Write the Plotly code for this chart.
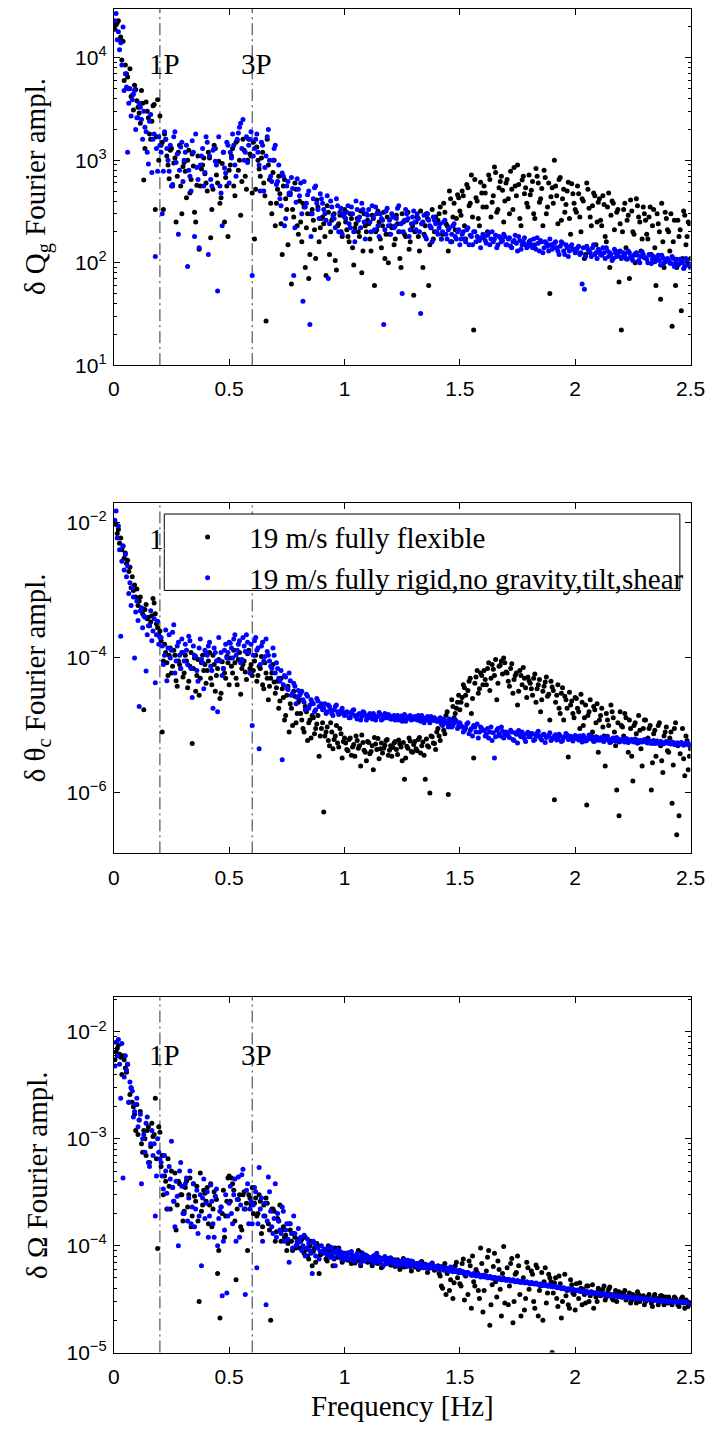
import plotly.graph_objects as go

# ---------------- data ----------------
# FFT bins on the whole-hundredth grid
FREQ = [
    0.01, 0.02, 0.03, 0.04, 0.05, 0.06, 0.07, 0.08, 0.09, 0.10,
    0.11, 0.12, 0.13, 0.14, 0.15, 0.16, 0.17, 0.18, 0.19, 0.20,
    0.21, 0.22, 0.23, 0.24, 0.25, 0.26, 0.27, 0.28, 0.29, 0.30,
    0.31, 0.32, 0.33, 0.34, 0.35, 0.36, 0.37, 0.38, 0.39, 0.40,
    0.41, 0.42, 0.43, 0.44, 0.45, 0.46, 0.47, 0.48, 0.49, 0.50,
    0.51, 0.52, 0.53, 0.54, 0.55, 0.56, 0.57, 0.58, 0.59, 0.60,
    0.61, 0.62, 0.63, 0.64, 0.65, 0.66, 0.67, 0.68, 0.69, 0.70,
    0.71, 0.72, 0.73, 0.74, 0.75, 0.76, 0.77, 0.78, 0.79, 0.80,
    0.81, 0.82, 0.83, 0.84, 0.85, 0.86, 0.87, 0.88, 0.89, 0.90,
    0.91, 0.92, 0.93, 0.94, 0.95, 0.96, 0.97, 0.98, 0.99, 1.00,
    1.01, 1.02, 1.03, 1.04, 1.05, 1.06, 1.07, 1.08, 1.09, 1.10,
    1.11, 1.12, 1.13, 1.14, 1.15, 1.16, 1.17, 1.18, 1.19, 1.20,
    1.21, 1.22, 1.23, 1.24, 1.25, 1.26, 1.27, 1.28, 1.29, 1.30,
    1.31, 1.32, 1.33, 1.34, 1.35, 1.36, 1.37, 1.38, 1.39, 1.40,
    1.41, 1.42, 1.43, 1.44, 1.45, 1.46, 1.47, 1.48, 1.49, 1.50,
    1.51, 1.52, 1.53, 1.54, 1.55, 1.56, 1.57, 1.58, 1.59, 1.60,
    1.61, 1.62, 1.63, 1.64, 1.65, 1.66, 1.67, 1.68, 1.69, 1.70,
    1.71, 1.72, 1.73, 1.74, 1.75, 1.76, 1.77, 1.78, 1.79, 1.80,
    1.81, 1.82, 1.83, 1.84, 1.85, 1.86, 1.87, 1.88, 1.89, 1.90,
    1.91, 1.92, 1.93, 1.94, 1.95, 1.96, 1.97, 1.98, 1.99, 2.00,
    2.01, 2.02, 2.03, 2.04, 2.05, 2.06, 2.07, 2.08, 2.09, 2.10,
    2.11, 2.12, 2.13, 2.14, 2.15, 2.16, 2.17, 2.18, 2.19, 2.20,
    2.21, 2.22, 2.23, 2.24, 2.25, 2.26, 2.27, 2.28, 2.29, 2.30,
    2.31, 2.32, 2.33, 2.34, 2.35, 2.36, 2.37, 2.38, 2.39, 2.40,
    2.41, 2.42, 2.43, 2.44, 2.45, 2.46, 2.47, 2.48, 2.49, 2.50,
]
# FFT bins half-way between the above
FREQ_B = [
    0.005, 0.015, 0.025, 0.035, 0.045, 0.055, 0.065, 0.075, 0.085, 0.095,
    0.105, 0.115, 0.125, 0.135, 0.145, 0.155, 0.165, 0.175, 0.185, 0.195,
    0.205, 0.215, 0.225, 0.235, 0.245, 0.255, 0.265, 0.275, 0.285, 0.295,
    0.305, 0.315, 0.325, 0.335, 0.345, 0.355, 0.365, 0.375, 0.385, 0.395,
    0.405, 0.415, 0.425, 0.435, 0.445, 0.455, 0.465, 0.475, 0.485, 0.495,
    0.505, 0.515, 0.525, 0.535, 0.545, 0.555, 0.565, 0.575, 0.585, 0.595,
    0.605, 0.615, 0.625, 0.635, 0.645, 0.655, 0.665, 0.675, 0.685, 0.695,
    0.705, 0.715, 0.725, 0.735, 0.745, 0.755, 0.765, 0.775, 0.785, 0.795,
    0.805, 0.815, 0.825, 0.835, 0.845, 0.855, 0.865, 0.875, 0.885, 0.895,
    0.905, 0.915, 0.925, 0.935, 0.945, 0.955, 0.965, 0.975, 0.985, 0.995,
    1.005, 1.015, 1.025, 1.035, 1.045, 1.055, 1.065, 1.075, 1.085, 1.095,
    1.105, 1.115, 1.125, 1.135, 1.145, 1.155, 1.165, 1.175, 1.185, 1.195,
    1.205, 1.215, 1.225, 1.235, 1.245, 1.255, 1.265, 1.275, 1.285, 1.295,
    1.305, 1.315, 1.325, 1.335, 1.345, 1.355, 1.365, 1.375, 1.385, 1.395,
    1.405, 1.415, 1.425, 1.435, 1.445, 1.455, 1.465, 1.475, 1.485, 1.495,
    1.505, 1.515, 1.525, 1.535, 1.545, 1.555, 1.565, 1.575, 1.585, 1.595,
    1.605, 1.615, 1.625, 1.635, 1.645, 1.655, 1.665, 1.675, 1.685, 1.695,
    1.705, 1.715, 1.725, 1.735, 1.745, 1.755, 1.765, 1.775, 1.785, 1.795,
    1.805, 1.815, 1.825, 1.835, 1.845, 1.855, 1.865, 1.875, 1.885, 1.895,
    1.905, 1.915, 1.925, 1.935, 1.945, 1.955, 1.965, 1.975, 1.985, 1.995,
    2.005, 2.015, 2.025, 2.035, 2.045, 2.055, 2.065, 2.075, 2.085, 2.095,
    2.105, 2.115, 2.125, 2.135, 2.145, 2.155, 2.165, 2.175, 2.185, 2.195,
    2.205, 2.215, 2.225, 2.235, 2.245, 2.255, 2.265, 2.275, 2.285, 2.295,
    2.305, 2.315, 2.325, 2.335, 2.345, 2.355, 2.365, 2.375, 2.385, 2.395,
    2.405, 2.415, 2.425, 2.435, 2.445, 2.455, 2.465, 2.475, 2.485, 2.495,
]

# delta Q_g, fully flexible (black)
QG_FLEX = [
    21000, 23000, 16000, 14500, 8500, 6500, 7800, 4300, 5400, 3800,
    2900, 4800, 640, 3700, 2600, 1600, 3400, 330, 3900, 2700,
    1500, 1800, 1100, 660, 1300, 940, 250, 1200, 560, 870,
    780, 1000, 480, 1150, 310, 570, 135, 820, 1050, 600,
    1200, 175, 520, 1300, 600, 380, 930, 250, 560, 800,
    1100, 560, 1500, 800, 290, 1600, 700, 1000, 1150, 480,
    170, 1350, 820, 1050, 600, 27, 900, 380, 760, 230,
    520, 470, 120, 650, 330, 460, 62, 280, 520, 190,
    250, 380, 90, 300, 120, 330, 210, 410, 160, 270,
    240, 75, 310, 200, 270, 105, 230, 290, 180, 330,
    210, 160, 270, 95, 240, 200, 320, 130, 230, 260,
    170, 290, 60, 210, 250, 140, 310, 190, 100, 230,
    280, 170, 240, 110, 300, 190, 260, 135, 210, 48,
    250, 180, 320, 90, 230, 270, 150, 330, 200, 260,
    300, 170, 380, 240, 130, 420, 280, 210, 460, 320,
    500, 230, 580, 360, 720, 22, 430, 270, 610, 350,
    480, 200, 650, 390, 860, 310, 540, 700, 250, 600,
    420, 780, 330, 560, 900, 270, 640, 470, 380, 720,
    510, 300, 830, 600, 420, 230, 680, 350, 50, 540,
    1000, 450, 650, 260, 520, 370, 610, 190, 470, 330,
    560, 280, 420, 110, 600, 340, 230, 480, 150, 390,
    260, 450, 180, 350, 90, 400, 210, 310, 65, 22,
    330, 140, 290, 410, 200, 100, 360, 250, 170, 300,
    190, 280, 120, 330, 60, 240, 44, 160, 310, 210,
    130, 24, 260, 90, 180, 34, 320, 150, 250, 110,
]
QG_FLEX_B = [
    19000, 22000, 15000, 9500, 6000, 7000, 5000, 4200, 3100, 4900,
    3300, 2300, 3600, 1300, 3000, 1800, 2400, 3500, 1700, 1000,
    1400, 330, 1600, 900, 1250, 560, 1050, 700, 1400, 300,
    950, 430, 1250, 650, 880, 250, 1100, 560, 900, 740,
    500, 1050, 330, 1400, 720, 980, 430, 1200, 680, 180,
    900, 1300, 450, 1550, 1000, 620, 1250, 520, 1600, 1100,
    1500, 520, 1000, 700, 1200, 450, 1600, 650, 300, 1000,
    380, 700, 240, 560, 420, 150, 480, 330, 600, 230,
    400, 160, 350, 220, 70, 300, 260, 110, 350, 220,
    280, 180, 360, 120, 260, 300, 85, 240, 200, 290,
    250, 180, 300, 140, 220, 270, 180, 80, 300, 200,
    240, 130, 270, 200, 320, 170, 230, 110, 280, 190,
    220, 150, 290, 200, 90, 250, 180, 310, 160, 230,
    200, 280, 130, 240, 190, 300, 60, 220, 170, 280,
    260, 350, 190, 310, 230, 500, 160, 380, 270, 430,
    290, 450, 170, 540, 380, 280, 650, 400, 230, 480,
    560, 350, 720, 280, 450, 760, 330, 620, 510, 400,
    650, 300, 520, 850, 450, 580, 230, 700, 540, 350,
    460, 620, 270, 700, 390, 530, 800, 300, 600, 440,
    380, 560, 240, 680, 420, 310, 500, 270, 590, 380,
    310, 470, 200, 400, 120, 520, 280, 360, 450, 250,
    420, 230, 370, 160, 480, 290, 380, 130, 330, 240,
    200, 380, 260, 70, 320, 190, 420, 280, 130, 350,
    260, 170, 350, 230, 140, 300, 200, 380, 90, 270,
    200, 300, 160, 60, 260, 210, 110, 290, 180, 240,
]

# delta Q_g, fully rigid (blue)
QG_RIGID = [
    27000, 18000, 14000, 20000, 7000, 1200, 5000, 3900, 4800, 2600,
    3600, 2500, 3000, 1900, 920, 2800, 1600, 115, 780, 1400,
    300, 1900, 1300, 780, 560, 1700, 950, 190, 1350, 620,
    1200, 92, 700, 1550, 180, 850, 140, 1100, 560, 1700,
    120, 650, 1250, 980, 53, 560, 230, 840, 1500, 600,
    1050, 1400, 700, 1850, 2300, 2500, 1200, 950, 1600, 75,
    1300, 1800, 900, 1500, 500, 1100, 2000, 700, 1000, 1400,
    620, 420, 750, 230, 560, 480, 680, 75, 390, 520,
    600, 42, 350, 460, 25, 300, 540, 380, 270, 420,
    330, 260, 70, 400, 290, 220, 360, 310, 190, 280,
    310, 240, 350, 200, 400, 260, 220, 330, 170, 290,
    250, 360, 210, 300, 180, 270, 25, 320, 230, 190,
    280, 230, 340, 200, 50, 260, 300, 180, 240, 320,
    210, 270, 32, 250, 180, 300, 230, 160, 260, 200,
    220, 170, 250, 190, 210, 160, 230, 180, 200, 150,
    190, 170, 210, 150, 180, 200, 160, 175, 140, 190,
    165, 185, 150, 200, 170, 140, 180, 160, 190, 150,
    170, 145, 160, 185, 130, 165, 150, 175, 140, 160,
    150, 170, 135, 155, 165, 125, 160, 145, 170, 135,
    155, 140, 120, 160, 130, 150, 115, 145, 135, 125,
    140, 120, 62, 55, 145, 130, 115, 150, 125, 135,
    120, 140, 110, 130, 125, 105, 135, 115, 128, 110,
    125, 110, 130, 115, 105, 122, 118, 100, 128, 112,
    108, 120, 98, 115, 105, 118, 95, 112, 102, 110,
    100, 115, 92, 108, 97, 105, 88, 110, 95, 90,
]
QG_RIGID_B = [
    23000, 15000, 12000, 8500, 4800, 5200, 3600, 2700, 4400, 2000,
    2600, 3300, 1600, 2100, 1200, 2400, 760, 1800, 1300, 1700,
    1200, 780, 1600, 1000, 1400, 580, 1900, 1150, 800, 1500,
    1000, 1400, 800, 500, 1200, 1800, 650, 900, 1300, 760,
    1500, 1100, 560, 1300, 900, 1700, 480, 1200, 750, 1400,
    1200, 1800, 900, 1600, 2100, 1300, 1000, 1700, 1400, 1900,
    1100, 1600, 1200, 500, 1400, 850, 1700, 1000, 620, 1300,
    580, 900, 360, 700, 270, 620, 460, 530, 220, 660,
    450, 300, 620, 380, 500, 180, 420, 560, 330, 470,
    380, 300, 450, 240, 350, 270, 420, 200, 340, 300,
    270, 360, 220, 300, 160, 330, 280, 380, 250, 300,
    330, 200, 280, 350, 230, 300, 260, 210, 340, 260,
    300, 220, 270, 360, 240, 200, 330, 270, 210, 280,
    250, 300, 200, 240, 290, 170, 260, 220, 280, 240,
    190, 240, 200, 260, 170, 220, 190, 240, 170, 210,
    170, 200, 160, 220, 185, 150, 200, 180, 165, 175,
    180, 155, 195, 170, 160, 185, 150, 175, 165, 180,
    150, 175, 140, 165, 155, 180, 135, 160, 150, 145,
    165, 140, 150, 175, 130, 160, 140, 155, 130, 150,
    140, 160, 130, 145, 155, 120, 140, 130, 150, 135,
    130, 145, 125, 140, 115, 135, 125, 140, 120, 110,
    130, 118, 125, 140, 115, 120, 110, 125, 118, 130,
    115, 120, 108, 125, 110, 118, 125, 105, 115, 120,
    112, 100, 118, 108, 102, 112, 105, 118, 100, 108,
    105, 98, 110, 100, 95, 108, 100, 92, 102, 96,
]

# delta theta_c, fully flexible (black)
TC_FLEX = [
    9.5e-3, 8e-3, 6e-3, 4.5e-3, 3.6e-3, 2.8e-3, 2.2e-3, 1.6e-3, 1.2e-3, 1.05e-3,
    7e-4, 5.5e-4, 1.7e-5, 6.2e-4, 4e-4, 3.4e-4, 7.6e-4, 4.5e-4, 2.8e-4, 2.5e-4,
    8e-6, 1.6e-4, 8.5e-5, 1.1e-4, 6e-5, 1.3e-4, 4.6e-5, 9e-5, 7e-5, 5.2e-5,
    1.1e-4, 3.6e-5, 7.5e-5, 5.4e-6, 1e-4, 5.5e-5, 2.8e-5, 8.5e-5, 6.5e-5, 4.2e-5,
    9e-5, 5e-5, 1.1e-4, 3.2e-5, 7e-5, 2.5e-5, 8.8e-5, 6e-5, 1.05e-4, 4e-5,
    7.5e-5, 1.3e-4, 5e-5, 9.5e-5, 2.9e-5, 8e-5, 6.2e-5, 1.15e-4, 7e-5, 5.5e-5,
    9e-5, 4.5e-5, 7.5e-5, 1.05e-4, 3.5e-5, 6e-5, 2.4e-5, 5e-5, 8e-5, 3e-5,
    4.5e-5, 2.3e-5, 3.5e-5, 1.2e-5, 2.8e-5, 8e-6, 1.8e-5, 3.2e-5, 1.1e-5, 2.2e-5,
    1.5e-5, 9e-6, 1.9e-5, 6e-6, 1.2e-5, 1.4e-5, 7.5e-6, 1.05e-5, 3.5e-6, 9e-6,
    5.2e-7, 8e-6, 6e-6, 1.1e-5, 4.5e-6, 7e-6, 5.5e-6, 9e-6, 3.3e-6, 6.5e-6,
    4.4e-6, 6.2e-6, 3.6e-6, 5.2e-6, 7e-6, 4.6e-6, 2.5e-6, 5.6e-6, 4e-6, 5.8e-6,
    3.8e-6, 5e-6, 6.6e-6, 4.4e-6, 3.2e-6, 5.5e-6, 4.6e-6, 6e-6, 3.6e-6, 5e-6,
    4.7e-6, 5.8e-6, 3.7e-6, 5.3e-6, 3e-6, 1.6e-6, 4.9e-6, 6.5e-6, 4.1e-6, 5.2e-6,
    4.5e-6, 6.2e-6, 3.9e-6, 5.7e-6, 1.6e-6, 5e-6, 1e-6, 6.8e-6, 5.4e-6, 8e-6,
    7e-6, 1.1e-5, 8.5e-6, 1.4e-5, 9.5e-7, 1.2e-5, 1.9e-5, 1.5e-5, 2.2e-5, 1.7e-5,
    2.6e-5, 3.6e-5, 2e-5, 4.5e-5, 1.5e-5, 3.3e-6, 5.2e-5, 3e-5, 6e-5, 4e-5,
    4.8e-5, 7e-5, 3.3e-5, 8e-5, 5.5e-5, 2.4e-5, 7.5e-5, 9e-5, 1e-4, 6.2e-5,
    4.5e-5, 7e-5, 3e-5, 5.5e-5, 2e-5, 6.5e-5, 4e-5, 5e-5, 2.6e-5, 4.6e-5,
    3.5e-5, 5e-5, 2.2e-5, 4e-5, 1.6e-5, 3.2e-5, 4.4e-5, 2.7e-5, 1.2e-5, 3.7e-5,
    7.9e-7, 2.8e-5, 1.8e-5, 3e-5, 1.2e-5, 2.4e-5, 3.4e-6, 2e-5, 1.5e-5, 2.6e-5,
    1.8e-5, 9e-6, 2.2e-5, 1.3e-5, 6.6e-7, 1.6e-5, 7e-6, 1.9e-5, 1.1e-5, 4e-6,
    1.4e-5, 9.5e-6, 2.5e-6, 1.2e-5, 6e-6, 1.6e-5, 8e-6, 1.1e-6, 4.6e-7, 1e-5,
    7e-6, 1.3e-5, 4e-6, 9e-6, 1.5e-6, 1.1e-5, 5.5e-6, 8.5e-6, 2.5e-6, 1.2e-5,
    6e-6, 9e-6, 1.1e-6, 7.5e-6, 3.5e-6, 1e-5, 5e-6, 2e-6, 8e-6, 4.2e-6,
    6.5e-6, 7e-7, 9e-6, 2.4e-7, 4.6e-7, 5.5e-6, 3.2e-6, 7e-6, 2.2e-6, 4.5e-6,
]
TC_FLEX_B = [
    1e-2, 7e-3, 5e-3, 4e-3, 3e-3, 2.5e-3, 1.9e-3, 1.1e-3, 1e-3, 8e-4,
    6e-4, 8e-4, 4.5e-4, 5.2e-4, 3.8e-4, 3e-4, 4.2e-4, 6.5e-4, 3.2e-4, 2.2e-4,
    1.8e-4, 9e-5, 1.2e-4, 5.5e-5, 1.4e-4, 7.5e-5, 1.1e-4, 3.8e-5, 8e-5, 1.2e-4,
    6e-5, 9e-5, 4.5e-5, 1.2e-4, 7e-5, 3.2e-5, 9.5e-5, 5e-5, 1.1e-4, 8e-5,
    6.5e-5, 1.2e-4, 4e-5, 8e-5, 5.5e-5, 9.5e-5, 3e-5, 7e-5, 5e-5, 8.5e-5,
    1e-4, 6e-5, 8.5e-5, 4e-5, 1.2e-4, 7e-5, 9e-5, 4.8e-5, 1.3e-4, 8e-5,
    6.5e-5, 1.1e-4, 5.5e-5, 7e-5, 4e-5, 8.5e-5, 5e-5, 3.8e-5, 6e-5, 4.4e-5,
    3.6e-5, 1.8e-5, 5e-5, 2.6e-5, 1.4e-5, 3.8e-5, 2.1e-5, 1e-5, 2.7e-5, 1.5e-5,
    2.4e-5, 1.2e-5, 8e-6, 1.6e-5, 1.1e-5, 6.5e-6, 1.3e-5, 9e-6, 1.4e-5, 7e-6,
    1.1e-5, 7e-6, 9.5e-6, 5e-6, 8e-6, 6.2e-6, 1e-5, 4.8e-6, 7.5e-6, 5.8e-6,
    5.5e-6, 4.2e-6, 6.5e-6, 4.8e-6, 3.5e-6, 6e-6, 5e-6, 7.2e-6, 4.3e-6, 3e-6,
    5.6e-6, 4.1e-6, 2.2e-6, 5.3e-6, 6.4e-6, 4.5e-6, 3.9e-6, 5.1e-6, 6.2e-6, 4.3e-6,
    3.5e-6, 5.5e-6, 4.4e-6, 6.1e-6, 4.8e-6, 5.6e-6, 3.3e-6, 4.6e-6, 5.9e-6, 4e-6,
    5.8e-6, 4.2e-6, 6.6e-6, 5e-6, 3.6e-6, 6.3e-6, 4.8e-6, 7e-6, 5.5e-6, 4.4e-6,
    9e-6, 6e-6, 1.2e-5, 7.5e-6, 1.6e-5, 1e-5, 2.4e-5, 1.3e-5, 1.8e-5, 2.8e-5,
    2.2e-5, 4e-5, 2.8e-5, 3.3e-5, 5e-5, 2.5e-5, 4.2e-5, 6.5e-5, 3.5e-5, 5.5e-5,
    6.5e-5, 4e-5, 8.5e-5, 5e-5, 6.8e-5, 9.5e-5, 4.2e-5, 7.8e-5, 5.8e-5, 8.5e-5,
    6e-5, 3.8e-5, 8.2e-5, 4.8e-5, 6e-5, 3.2e-5, 5.5e-5, 7.2e-5, 3.6e-5, 5.2e-5,
    4.2e-5, 2.8e-5, 5.8e-5, 3.5e-5, 4.8e-5, 2.4e-5, 3.8e-5, 5.2e-5, 2.9e-5, 4.5e-5,
    3.3e-5, 2.2e-5, 4e-5, 1.5e-5, 3.6e-5, 2.7e-5, 1.8e-5, 3.1e-5, 2.3e-5, 1.3e-5,
    2.5e-5, 1.6e-5, 2.9e-5, 1e-5, 2e-5, 1.4e-5, 2.4e-5, 8e-6, 1.7e-5, 2.1e-5,
    1.2e-5, 1.8e-5, 7e-6, 1.5e-5, 1e-5, 2e-5, 1.3e-5, 5e-6, 1.1e-5, 1.6e-5,
    9.5e-6, 1.5e-5, 6e-6, 1.2e-5, 3.5e-6, 1e-5, 7.5e-6, 1.4e-5, 4.5e-6, 9e-6,
    1.2e-5, 6.5e-6, 1e-5, 2.8e-6, 8.5e-6, 5.5e-6, 1.1e-5, 3e-6, 7e-6, 9.5e-6,
    4e-6, 8e-6, 2.6e-6, 1.1e-5, 5e-6, 3.8e-6, 9e-6, 1.8e-6, 6e-6, 3.5e-6,
]

# delta theta_c, fully rigid (blue)
TC_RIGID = [
    1.5e-2, 9e-3, 2.1e-4, 4.6e-3, 3.4e-3, 2.3e-3, 1.3e-3, 1.1e-3, 1e-4, 7e-4,
    1.9e-5, 5.5e-4, 4.2e-4, 6.4e-5, 3e-4, 5e-4, 2.5e-4, 4.3e-5, 3.5e-4, 2e-4,
    1.5e-4, 1.1e-4, 4.6e-5, 2.2e-4, 1.3e-4, 3.1e-4, 9e-5, 1.7e-4, 7e-5, 1.2e-4,
    1.6e-4, 8e-5, 1.8e-4, 2.6e-5, 1.1e-4, 6.5e-5, 1.4e-4, 9.5e-5, 3.5e-5, 1.2e-4,
    1.5e-4, 7.5e-5, 1.8e-5, 1.2e-4, 1.6e-5, 9e-5, 5.5e-5, 1.3e-4, 1e-4, 1.7e-4,
    1.4e-4, 1.9e-4, 1.1e-4, 1.6e-4, 8.5e-5, 2e-4, 1.25e-4, 1.7e-4, 6e-5, 1e-5,
    1.8e-4, 1.3e-4, 4.5e-6, 1.5e-4, 9e-5, 1.9e-4, 1.1e-4, 7.5e-5, 1.4e-4, 6e-5,
    7e-5, 4.5e-5, 3.1e-6, 5.5e-5, 3.6e-5, 6e-5, 2.8e-5, 4.2e-5, 2.1e-5, 3.3e-5,
    3e-5, 2.4e-5, 1.7e-5, 2.7e-5, 2e-5, 2.2e-5, 1.6e-5, 2.5e-5, 1.9e-5, 2.1e-5,
    1.8e-5, 1.5e-5, 2e-5, 1.7e-5, 1.4e-5, 1.9e-5, 1.6e-5, 1.5e-5, 1.8e-5, 1.4e-5,
    1.6e-5, 1.3e-5, 1.5e-5, 1.7e-5, 1.35e-5, 1.45e-5, 1.2e-5, 1.6e-5, 1.4e-5, 1.3e-5,
    1.5e-5, 1.25e-5, 1.4e-5, 1.35e-5, 1.55e-5, 1.2e-5, 1.4e-5, 1.3e-5, 1.45e-5, 1.25e-5,
    1.35e-5, 1.2e-5, 1.4e-5, 1.3e-5, 1.15e-5, 1.45e-5, 1.25e-5, 1.35e-5, 1.2e-5, 1.3e-5,
    1.25e-5, 1.4e-5, 1.15e-5, 1.3e-5, 1.2e-5, 1.35e-5, 1.1e-5, 1.25e-5, 1.3e-5, 1.15e-5,
    1.2e-5, 1.05e-5, 1.25e-5, 1.1e-5, 9.5e-6, 1.15e-5, 1e-5, 1.2e-5, 9e-6, 1.1e-5,
    9.5e-6, 8.5e-6, 1.05e-5, 7.5e-6, 9e-6, 1e-5, 8e-6, 6.5e-6, 9.5e-6, 8.5e-6,
    7e-6, 9e-6, 8e-6, 6e-6, 3.3e-6, 8.5e-6, 7.5e-6, 9.5e-6, 6.5e-6, 8e-6,
    7e-6, 8.5e-6, 6.2e-6, 7.8e-6, 5.5e-6, 7.2e-6, 8e-6, 6.4e-6, 7.5e-6, 6.8e-6,
    7.6e-6, 6e-6, 7e-6, 8.2e-6, 6.5e-6, 7.3e-6, 5.6e-6, 6.9e-6, 7.8e-6, 6.3e-6,
    7e-6, 6.1e-6, 7.4e-6, 5.8e-6, 6.7e-6, 7.6e-6, 6.2e-6, 6.9e-6, 5.9e-6, 7.1e-6,
    6.4e-6, 7e-6, 5.7e-6, 6.6e-6, 6e-6, 7.2e-6, 6.3e-6, 5.8e-6, 6.8e-6, 6.1e-6,
    6.5e-6, 5.9e-6, 6.2e-6, 6.9e-6, 5.6e-6, 6.3e-6, 6e-6, 6.6e-6, 5.7e-6, 6.2e-6,
    5.9e-6, 6.4e-6, 5.6e-6, 6.1e-6, 5.8e-6, 6.3e-6, 5.5e-6, 6e-6, 5.7e-6, 6.2e-6,
    5.6e-6, 5.9e-6, 5.4e-6, 6e-6, 5.7e-6, 5.5e-6, 5.8e-6, 5.3e-6, 5.6e-6, 5.5e-6,
    5.4e-6, 5.7e-6, 5.2e-6, 5.5e-6, 5.3e-6, 5.6e-6, 5.1e-6, 5.4e-6, 5.2e-6, 5.3e-6,
]
TC_RIGID_B = [
    1.1e-2, 6e-3, 4e-3, 2.7e-3, 2e-3, 1.6e-3, 9e-4, 6e-4, 8e-4, 4.8e-4,
    3.6e-4, 5e-4, 2.8e-4, 4e-4, 2.2e-4, 3e-4, 1.8e-4, 3.8e-4, 2.2e-4, 1.6e-4,
    2e-4, 8e-5, 2.6e-4, 1.4e-4, 1e-4, 2.4e-4, 6e-5, 1.5e-4, 1.1e-4, 1.9e-4,
    9e-5, 1.3e-4, 2.1e-4, 7e-5, 1.5e-4, 1.05e-4, 4.5e-5, 1.9e-4, 8.5e-5, 1.3e-4,
    1.1e-4, 1.7e-4, 6.5e-5, 1.4e-4, 9e-5, 2e-4, 1.2e-4, 7e-5, 1.6e-4, 1.2e-4,
    1.65e-4, 1e-4, 2.2e-4, 1.3e-4, 1.8e-4, 9.5e-5, 1.5e-4, 2.2e-4, 1.2e-4, 1.6e-4,
    1.1e-4, 2e-4, 1.4e-4, 8e-5, 1.7e-4, 1.05e-4, 1.25e-4, 9e-5, 7e-5, 1.1e-4,
    8.5e-5, 5e-5, 6.5e-5, 4e-5, 5.2e-5, 3.4e-5, 4.6e-5, 3e-5, 3.8e-5, 2.6e-5,
    2.8e-5, 3.2e-5, 2.2e-5, 2.9e-5, 1.8e-5, 2.4e-5, 2.1e-5, 1.7e-5, 2.3e-5, 1.9e-5,
    1.7e-5, 2.1e-5, 1.6e-5, 1.9e-5, 1.5e-5, 1.7e-5, 2e-5, 1.45e-5, 1.65e-5, 1.55e-5,
    1.45e-5, 1.55e-5, 1.3e-5, 1.65e-5, 1.4e-5, 1.25e-5, 1.5e-5, 1.35e-5, 1.55e-5, 1.2e-5,
    1.4e-5, 1.3e-5, 1.5e-5, 1.2e-5, 1.35e-5, 1.45e-5, 1.25e-5, 1.5e-5, 1.3e-5, 1.4e-5,
    1.25e-5, 1.4e-5, 1.3e-5, 1.2e-5, 1.38e-5, 1.28e-5, 1.15e-5, 1.32e-5, 1.4e-5, 1.22e-5,
    1.35e-5, 1.2e-5, 1.3e-5, 1.4e-5, 1.1e-5, 1.28e-5, 1.2e-5, 1.35e-5, 1.18e-5, 1.25e-5,
    1.15e-5, 1.3e-5, 1e-5, 1.18e-5, 1.08e-5, 1.25e-5, 9.5e-6, 1.1e-5, 1.15e-5, 1e-5,
    1e-5, 8e-6, 9.2e-6, 1.1e-5, 8.5e-6, 7e-6, 9.5e-6, 1.05e-5, 8e-6, 9e-6,
    8.5e-6, 7.5e-6, 6.5e-6, 9.5e-6, 7.8e-6, 6.8e-6, 9e-6, 7e-6, 8.2e-6, 7.4e-6,
    7.6e-6, 6.6e-6, 8e-6, 6e-6, 7.4e-6, 8.4e-6, 6.8e-6, 7.2e-6, 5.8e-6, 7.9e-6,
    6.8e-6, 7.5e-6, 6.2e-6, 7.7e-6, 6.9e-6, 6.1e-6, 7.4e-6, 6.6e-6, 7.1e-6, 6e-6,
    6.6e-6, 7.3e-6, 6.4e-6, 7e-6, 6e-6, 6.8e-6, 7.2e-6, 6.3e-6, 6.6e-6, 6.4e-6,
    6.8e-6, 6.1e-6, 6.5e-6, 7.1e-6, 5.9e-6, 6.4e-6, 6.9e-6, 6.2e-6, 5.9e-6, 6.7e-6,
    6.1e-6, 6.6e-6, 5.8e-6, 6.4e-6, 6.1e-6, 5.7e-6, 6.5e-6, 5.9e-6, 6.3e-6, 5.8e-6,
    6.2e-6, 5.7e-6, 6.3e-6, 5.9e-6, 6.2e-6, 5.7e-6, 6.1e-6, 5.6e-6, 6e-6, 5.8e-6,
    5.8e-6, 5.5e-6, 5.9e-6, 5.6e-6, 5.4e-6, 5.9e-6, 5.5e-6, 5.7e-6, 5.4e-6, 5.8e-6,
    5.6e-6, 5.3e-6, 5.6e-6, 5.2e-6, 5.5e-6, 5.3e-6, 5.4e-6, 5.2e-6, 5.5e-6, 5.1e-6,
]

# delta Omega, fully flexible (black)
OM_FLEX = [
    6.5e-3, 7.5e-3, 5.8e-3, 6e-3, 4.6e-3, 5e-3, 2.6e-3, 2.2e-3, 1.7e-3, 2.1e-3,
    1.5e-3, 9e-4, 1.2e-3, 7e-4, 1.3e-3, 8.5e-4, 1.05e-3, 2.4e-3, 9.4e-5, 1.15e-3,
    7e-4, 4.5e-4, 2.2e-4, 3.6e-4, 5e-4, 2.6e-4, 1.4e-4, 4e-4, 3e-4, 1.7e-4,
    3.5e-4, 2.3e-4, 4.3e-4, 1.9e-4, 2.9e-4, 3.6e-4, 3e-5, 2.1e-4, 3.3e-4, 2.6e-4,
    1.6e-4, 3.8e-4, 2.2e-4, 2.9e-4, 5.5e-5, 2.1e-5, 2e-4, 1.2e-4, 2.6e-4, 4.5e-4,
    4.3e-4, 3.3e-4, 4.8e-5, 2.7e-4, 1.5e-4, 3e-4, 2.2e-4, 9e-5, 2.8e-4, 3.5e-4,
    2.5e-4, 1.9e-4, 3e-4, 1.3e-4, 2.4e-4, 2.8e-4, 1.6e-4, 2e-5, 2.2e-4, 1.1e-4,
    1.8e-4, 2.4e-4, 1.4e-4, 1.2e-4, 9e-5, 1.6e-4, 1.1e-4, 1.3e-4, 9.5e-5, 1.15e-4,
    1.1e-4, 9e-5, 1.2e-4, 8e-5, 1e-4, 6.5e-5, 9.5e-5, 1.05e-4, 5.5e-5, 8.5e-5,
    9e-5, 7.5e-5, 1e-4, 8.2e-5, 6.5e-5, 9.5e-5, 7.8e-5, 8.8e-5, 7e-5, 8.5e-5,
    7.5e-5, 8.5e-5, 6.8e-5, 8e-5, 7.2e-5, 9e-5, 6.5e-5, 7.8e-5, 8.2e-5, 7e-5,
    7.3e-5, 6.5e-5, 8e-5, 7e-5, 7.8e-5, 6.2e-5, 7.5e-5, 6.8e-5, 7.6e-5, 6.6e-5,
    7e-5, 6.4e-5, 7.4e-5, 6e-5, 6.9e-5, 6.3e-5, 7.2e-5, 6.6e-5, 5.8e-5, 6.8e-5,
    6.5e-5, 6e-5, 7e-5, 6.2e-5, 6.7e-5, 5.6e-5, 6.4e-5, 6.9e-5, 5.9e-5, 6.3e-5,
    5.5e-5, 4.2e-5, 6.2e-5, 3.5e-5, 5.8e-5, 4.8e-5, 3.2e-5, 6.5e-5, 5e-5, 4.4e-5,
    6.8e-5, 3.1e-5, 5.5e-5, 7.2e-5, 2.6e-5, 4.6e-5, 6e-5, 3.8e-5, 9.5e-5, 2.4e-5,
    5.2e-5, 7.8e-5, 1.8e-5, 4.3e-5, 8.5e-5, 3.3e-5, 6e-5, 2.2e-5, 9.8e-5, 4.8e-5,
    2.8e-5, 6.8e-5, 1.9e-5, 5.4e-5, 8e-5, 3.5e-5, 4.6e-5, 2.5e-5, 7e-5, 3.9e-5,
    5.8e-5, 3e-5, 6.6e-5, 2.2e-5, 4.2e-5, 2e-5, 6.2e-5, 3.6e-5, 5e-5, 1e-5,
    4.5e-5, 3.2e-5, 5.2e-5, 2.1e-5, 4e-5, 3.4e-5, 2.8e-5, 4.8e-5, 3.6e-5, 2.5e-5,
    3.8e-5, 4.5e-5, 2.8e-5, 3.5e-5, 4.2e-5, 3e-5, 3.7e-5, 2.6e-5, 3.3e-5, 4e-5,
    3.4e-5, 3.9e-5, 3.1e-5, 3.6e-5, 4.1e-5, 3.2e-5, 3.5e-5, 3e-5, 3.7e-5, 3.3e-5,
    3.6e-5, 3.1e-5, 3.4e-5, 2.9e-5, 3.5e-5, 3.2e-5, 3.7e-5, 3e-5, 3.3e-5, 2.8e-5,
    3.2e-5, 3.5e-5, 2.9e-5, 3.3e-5, 3.1e-5, 2.8e-5, 3.4e-5, 3e-5, 3.3e-5, 2.9e-5,
    3.1e-5, 2.8e-5, 3.3e-5, 3e-5, 2.7e-5, 3.2e-5, 2.9e-5, 3.1e-5, 2.7e-5, 2.9e-5,
]
OM_FLEX_B = [
    5.5e-3, 7e-3, 6.2e-3, 4e-3, 5.5e-3, 4.2e-3, 2.2e-3, 3e-3, 2e-3, 1.2e-3,
    1.1e-3, 1.8e-3, 7.5e-4, 1e-3, 1.2e-3, 6e-4, 1.4e-3, 1.1e-3, 6.5e-4, 1.3e-3,
    5.5e-4, 3e-4, 4e-4, 6.5e-4, 2.2e-4, 3.5e-4, 4.8e-4, 2.4e-4, 3.8e-4, 3e-4,
    2.1e-4, 4e-4, 3e-4, 1.5e-4, 3.8e-4, 2.6e-4, 1.7e-4, 4.8e-4, 2.4e-4, 3.1e-4,
    3.5e-4, 2.4e-4, 1.5e-4, 3.2e-4, 2.7e-4, 9e-5, 2.3e-4, 3.3e-4, 1.9e-4, 4.3e-4,
    2.6e-4, 3.8e-4, 1.7e-4, 2.2e-4, 3e-4, 1.4e-4, 3.2e-4, 2.5e-4, 3e-4, 2.4e-4,
    2e-4, 2.8e-4, 2e-4, 2.6e-4, 1.5e-4, 1.9e-4, 2.5e-4, 1.4e-4, 2.2e-4, 2.1e-4,
    1.35e-4, 1.7e-4, 1.1e-4, 1.5e-4, 1.25e-4, 1.05e-4, 1.4e-4, 9e-5, 1.2e-4, 1.05e-4,
    9.5e-5, 1.15e-4, 8.5e-5, 9.2e-5, 7.5e-5, 1.1e-4, 8.8e-5, 7e-5, 1e-4, 8.2e-5,
    8.5e-5, 9.2e-5, 7.2e-5, 9e-5, 8e-5, 7.5e-5, 8.6e-5, 9.5e-5, 8e-5, 7.6e-5,
    8e-5, 7.3e-5, 8.6e-5, 7.6e-5, 6.9e-5, 8.2e-5, 7.4e-5, 8.6e-5, 7.6e-5, 7.2e-5,
    7.8e-5, 7e-5, 7.4e-5, 8.2e-5, 6.8e-5, 7.2e-5, 6.4e-5, 7.4e-5, 7e-5, 7.4e-5,
    6.6e-5, 7.4e-5, 6.8e-5, 7e-5, 6.3e-5, 7.6e-5, 6.6e-5, 7e-5, 6.4e-5, 7.1e-5,
    6.3e-5, 6.8e-5, 6.5e-5, 7.1e-5, 6.3e-5, 6.5e-5, 6.1e-5, 6.6e-5, 6.3e-5, 6e-5,
    6.5e-5, 5.2e-5, 4e-5, 6.8e-5, 5.5e-5, 3.8e-5, 6.2e-5, 4.5e-5, 7e-5, 5.6e-5,
    4.2e-5, 7.5e-5, 5.2e-5, 3.5e-5, 6.5e-5, 8e-5, 4.2e-5, 5.6e-5, 3.2e-5, 6.8e-5,
    3.8e-5, 5.8e-5, 9e-5, 2.8e-5, 6.4e-5, 4.6e-5, 7.2e-5, 3.9e-5, 5.5e-5, 2.9e-5,
    6.2e-5, 4.2e-5, 7.6e-5, 3e-5, 5.6e-5, 6.5e-5, 2.2e-5, 5e-5, 3.2e-5, 6.2e-5,
    4.4e-5, 5.4e-5, 2.6e-5, 6.2e-5, 3.8e-5, 5.6e-5, 4.6e-5, 2.9e-5, 5.4e-5, 4.6e-5,
    3.6e-5, 5e-5, 2.7e-5, 4.4e-5, 3e-5, 5.4e-5, 3.8e-5, 2.6e-5, 4.3e-5, 3.5e-5,
    4.4e-5, 3.2e-5, 4e-5, 3.9e-5, 2.9e-5, 4.2e-5, 3.4e-5, 4.3e-5, 3.6e-5, 3e-5,
    3.8e-5, 3.6e-5, 4.2e-5, 3.3e-5, 3.9e-5, 3.5e-5, 3.1e-5, 3.8e-5, 3.4e-5, 3.6e-5,
    3.3e-5, 3.8e-5, 3.2e-5, 3.6e-5, 3.1e-5, 3.4e-5, 2.9e-5, 3.5e-5, 3.2e-5, 3.4e-5,
    3e-5, 3.3e-5, 3.1e-5, 2.7e-5, 3.5e-5, 3.2e-5, 3e-5, 3.4e-5, 2.8e-5, 3.1e-5,
    3.3e-5, 2.9e-5, 3.1e-5, 3.2e-5, 2.8e-5, 3e-5, 3.3e-5, 2.6e-5, 3e-5, 2.8e-5,
]

# delta Omega, fully rigid (blue)
OM_RIGID = [
    8e-3, 8.5e-3, 2.4e-3, 4.3e-4, 6e-3, 5e-3, 3.4e-3, 2.8e-3, 1.8e-3, 2.4e-3,
    1.5e-3, 3.8e-4, 1.1e-3, 1.4e-3, 6e-4, 9e-4, 7e-4, 1.9e-4, 1e-3, 6.5e-4,
    4.5e-4, 7e-4, 3.1e-4, 5.5e-4, 9.5e-4, 2.6e-4, 4e-4, 1e-4, 6e-4, 2e-4,
    3.8e-4, 1.7e-4, 5e-4, 2.3e-4, 1.5e-4, 3.3e-4, 1.9e-4, 6.5e-5, 4.2e-4, 2.5e-4,
    1.2e-4, 3.7e-4, 1.6e-4, 2.9e-4, 1e-4, 2.1e-4, 3.4e-5, 1.4e-4, 3.6e-5, 2.5e-4,
    2e-4, 3e-4, 1.1e-4, 4.4e-4, 2.4e-4, 5.2e-4, 3.5e-5, 3.8e-4, 2.2e-4, 1.6e-4,
    3.5e-4, 6.2e-5, 5.4e-4, 2.8e-4, 1.9e-4, 2.8e-5, 4.4e-4, 2.1e-4, 1.3e-4, 3.8e-4,
    2e-4, 1.4e-4, 2.3e-4, 1.1e-4, 1.6e-4, 7e-5, 1.3e-4, 1.9e-4, 1e-4, 1.45e-4,
    1.2e-4, 1e-4, 8e-5, 1.15e-4, 9e-5, 5.5e-5, 1.05e-4, 9.5e-5, 7.5e-5, 1e-4,
    9e-5, 8.5e-5, 9.5e-5, 7.8e-5, 8.8e-5, 6.5e-5, 9.2e-5, 8e-5, 8.6e-5, 7.4e-5,
    8.3e-5, 7.6e-5, 8.8e-5, 7.2e-5, 8e-5, 7.8e-5, 6.8e-5, 8.4e-5, 7.4e-5, 7.9e-5,
    7.3e-5, 7.8e-5, 6.9e-5, 8.5e-5, 7.1e-5, 7.6e-5, 6.6e-5, 7.4e-5, 7e-5, 7.7e-5,
    6.9e-5, 7.3e-5, 6.5e-5, 7.1e-5, 6.8e-5, 7.4e-5, 6.4e-5, 6.9e-5, 7.2e-5, 6.6e-5,
    6.7e-5, 6.3e-5, 6.9e-5, 6.4e-5, 6.6e-5, 6.1e-5, 6.5e-5, 6.8e-5, 6.2e-5, 6.4e-5,
    6.1e-5, 6.4e-5, 5.9e-5, 6.2e-5, 5.8e-5, 6.3e-5, 5.7e-5, 6e-5, 5.8e-5, 5.9e-5,
    5.7e-5, 5.4e-5, 5.6e-5, 5.5e-5, 5.3e-5, 5.5e-5, 5.2e-5, 5.4e-5, 5.1e-5, 5.3e-5,
    5.2e-5, 5e-5, 5.15e-5, 4.95e-5, 5.05e-5, 4.9e-5, 5e-5, 4.8e-5, 4.95e-5, 4.75e-5,
    4.85e-5, 4.7e-5, 4.8e-5, 4.6e-5, 4.72e-5, 4.55e-5, 4.65e-5, 4.5e-5, 4.6e-5, 4.45e-5,
    4.52e-5, 4.4e-5, 4.47e-5, 4.32e-5, 4.38e-5, 4.25e-5, 4.33e-5, 4.2e-5, 4.26e-5, 4.12e-5,
    4.18e-5, 4.05e-5, 4.1e-5, 3.97e-5, 4.03e-5, 3.9e-5, 3.96e-5, 3.85e-5, 3.9e-5, 3.8e-5,
    3.84e-5, 3.74e-5, 3.78e-5, 3.68e-5, 3.72e-5, 3.63e-5, 3.66e-5, 3.58e-5, 3.62e-5, 3.53e-5,
    3.57e-5, 3.49e-5, 3.52e-5, 3.44e-5, 3.47e-5, 3.4e-5, 3.43e-5, 3.36e-5, 3.39e-5, 3.32e-5,
    3.35e-5, 3.28e-5, 3.31e-5, 3.25e-5, 3.27e-5, 3.21e-5, 3.24e-5, 3.18e-5, 3.2e-5, 3.15e-5,
    3.17e-5, 3.12e-5, 3.14e-5, 3.09e-5, 3.11e-5, 3.06e-5, 3.08e-5, 3.04e-5, 3.05e-5, 3.01e-5,
    3.03e-5, 2.99e-5, 3.01e-5, 2.97e-5, 2.98e-5, 2.95e-5, 2.96e-5, 2.93e-5, 2.94e-5, 2.91e-5,
]
OM_RIGID_B = [
    4.8e-3, 6e-3, 5e-3, 7.8e-3, 3.8e-3, 4.4e-3, 2.2e-3, 3e-3, 1.6e-3, 2.1e-3,
    1.3e-3, 1.7e-3, 1e-3, 7.5e-4, 1.6e-3, 5.5e-4, 1.2e-3, 9e-4, 4.5e-4, 7.5e-4,
    6e-4, 3.4e-4, 5e-4, 2.2e-4, 4.2e-4, 3.5e-4, 1.5e-4, 2.9e-4, 5e-4, 3.6e-4,
    2e-4, 4.3e-4, 2.8e-4, 1.6e-4, 3.8e-4, 2.2e-4, 1.3e-4, 3e-4, 2.8e-4, 1.8e-4,
    3.2e-4, 1.9e-4, 2.6e-4, 1.2e-4, 3.4e-4, 1.8e-4, 2.3e-4, 1.1e-4, 3e-4, 1.9e-4,
    3.6e-4, 1.6e-4, 4.2e-4, 2.7e-4, 1.2e-4, 4.6e-4, 2.2e-4, 3.3e-4, 1.6e-4, 2.6e-4,
    2.4e-4, 3.2e-4, 1.6e-4, 2.2e-4, 1.1e-4, 2.5e-4, 1.7e-4, 3.2e-4, 1.5e-4, 1.8e-4,
    1.2e-4, 1.7e-4, 1.3e-4, 2.1e-4, 1.4e-4, 1.15e-4, 1.6e-4, 9.5e-5, 1.3e-4, 1.1e-4,
    1.1e-4, 9e-5, 1.25e-4, 9.5e-5, 1.05e-4, 8.5e-5, 1.1e-4, 8e-5, 9.5e-5, 8.8e-5,
    8.7e-5, 9.3e-5, 8.1e-5, 8.4e-5, 9.6e-5, 7.7e-5, 8.5e-5, 9e-5, 7.6e-5, 8.3e-5,
    7.7e-5, 8.6e-5, 7.5e-5, 8.1e-5, 7.3e-5, 8.5e-5, 7.7e-5, 8e-5, 7.2e-5, 8.1e-5,
    7.6e-5, 7.2e-5, 8e-5, 7.3e-5, 7.7e-5, 7e-5, 7.5e-5, 7.9e-5, 6.8e-5, 7.3e-5,
    7.1e-5, 6.7e-5, 7.2e-5, 6.9e-5, 6.6e-5, 7.1e-5, 6.8e-5, 7.3e-5, 6.5e-5, 6.9e-5,
    6.5e-5, 6.8e-5, 6.3e-5, 6.7e-5, 6.2e-5, 6.5e-5, 6.6e-5, 6.2e-5, 6.5e-5, 6.1e-5,
    6.3e-5, 6e-5, 6.2e-5, 6e-5, 6.1e-5, 5.8e-5, 6.1e-5, 5.9e-5, 5.7e-5, 5.8e-5,
    5.6e-5, 5.7e-5, 5.4e-5, 5.6e-5, 5.4e-5, 5.3e-5, 5.4e-5, 5.3e-5, 5.2e-5, 5.25e-5,
    5.1e-5, 5.2e-5, 5e-5, 5.1e-5, 4.95e-5, 5e-5, 4.85e-5, 4.9e-5, 4.8e-5, 4.85e-5,
    4.75e-5, 4.8e-5, 4.68e-5, 4.7e-5, 4.6e-5, 4.65e-5, 4.55e-5, 4.6e-5, 4.5e-5, 4.52e-5,
    4.45e-5, 4.48e-5, 4.38e-5, 4.4e-5, 4.3e-5, 4.33e-5, 4.24e-5, 4.28e-5, 4.18e-5, 4.2e-5,
    4.12e-5, 4.14e-5, 4.04e-5, 4.06e-5, 3.96e-5, 3.98e-5, 3.9e-5, 3.92e-5, 3.84e-5, 3.86e-5,
    3.78e-5, 3.8e-5, 3.72e-5, 3.74e-5, 3.66e-5, 3.68e-5, 3.6e-5, 3.63e-5, 3.56e-5, 3.58e-5,
    3.52e-5, 3.54e-5, 3.46e-5, 3.48e-5, 3.42e-5, 3.44e-5, 3.38e-5, 3.4e-5, 3.34e-5, 3.36e-5,
    3.3e-5, 3.32e-5, 3.27e-5, 3.28e-5, 3.23e-5, 3.25e-5, 3.2e-5, 3.22e-5, 3.17e-5, 3.19e-5,
    3.14e-5, 3.15e-5, 3.11e-5, 3.12e-5, 3.08e-5, 3.1e-5, 3.06e-5, 3.07e-5, 3.03e-5, 3.04e-5,
    3.01e-5, 3.02e-5, 2.99e-5, 3e-5, 2.97e-5, 2.98e-5, 2.95e-5, 2.96e-5, 2.93e-5, 2.94e-5,
]

SERIES_NAMES = ["19 m/s fully flexible", "19 m/s fully rigid,no gravity,tilt,shear"]
X_TICKS = [0, 0.5, 1, 1.5, 2, 2.5]
X_TICK_LABELS = ["0", "0.5", "1", "1.5", "2", "2.5"]
# y tick decades (exponents) for each panel
Y_TICK_EXPS = [[1, 2, 3, 4], [-6, -4, -2], [-5, -4, -3, -2]]
HARMONICS = [0.2, 0.6]
HARMONIC_LABELS = ["1P", "3P"]
Y_TITLES = ["δ Q<sub>g</sub> Fourier ampl.", "δ θ<sub>c</sub> Fourier ampl.", "δ Ω Fourier ampl."]
X_TITLE = "Frequency [Hz]"

# ---------------- layout / styling ----------------
W, H = 724, 1431
PLOT_L, PLOT_R = 111, 705
PANELS_PX = [(9, 368), (507, 860), (1005, 1363)]
Y_RANGES = [[1, 4.477], [-6.896, -1.706], [-5, -1.675]]
HARM_LABEL_Y = [3.94, -2.235, -2.213]
HARM_LABEL_X = [0.219, 0.618]
NBSP = "\u00a0"

SANS = "Liberation Sans, Arial, sans-serif"
SERIF = "Liberation Serif, Times New Roman, serif"
BLUE = "#0000FF"

FLEX = [QG_FLEX + QG_FLEX_B, TC_FLEX + TC_FLEX_B, OM_FLEX + OM_FLEX_B]
RIGID = [QG_RIGID + QG_RIGID_B, TC_RIGID + TC_RIGID_B, OM_RIGID + OM_RIGID_B]
ALL_FREQ = FREQ + FREQ_B


def exp_label(e):
    s = str(e).replace("-", "\u2212")
    return f"10<sup>{s}</sup>"


fig = go.Figure()
axis_common = dict(
    showline=True, linecolor="black", linewidth=1, mirror="ticks",
    ticks="inside", ticklen=6, tickwidth=1, tickcolor="black",
    showgrid=False, zeroline=False,
    tickfont=dict(family=SANS, size=21, color="black"),
)

shapes = []
annotations = []
xdom = [PLOT_L / W, PLOT_R / W]
for i in range(3):
    xa = "x" if i == 0 else f"x{i + 1}"
    ya = "y" if i == 0 else f"y{i + 1}"
    fig.add_trace(go.Scatter(
        x=ALL_FREQ, y=FLEX[i], mode="markers", name=NBSP * 3 + SERIES_NAMES[0],
        marker=dict(color="black", size=5, line=dict(width=0)),
        showlegend=(i == 1), xaxis=xa, yaxis=ya))
    fig.add_trace(go.Scatter(
        x=ALL_FREQ, y=RIGID[i], mode="markers", name=NBSP * 3 + SERIES_NAMES[1],
        marker=dict(color=BLUE, size=5, line=dict(width=0)),
        showlegend=(i == 1), xaxis=xa, yaxis=ya))

    top, bot = PANELS_PX[i]
    ydom = [1 - bot / H, 1 - top / H]
    xkey = "xaxis" if i == 0 else f"xaxis{i + 1}"
    ykey = "yaxis" if i == 0 else f"yaxis{i + 1}"
    exps = Y_TICK_EXPS[i]
    if i != 1:
        lo, hi = int(Y_RANGES[i][0]) - 1, int(Y_RANGES[i][1]) + 1
        minor_vals = [m * 10 ** e for e in range(lo, hi + 1) for m in range(2, 10)]
        minor = dict(tickmode="array", tickvals=minor_vals, ticks="inside",
                     ticklen=3, tickcolor="black", showgrid=False)
    else:
        minor = None
    fig.update_layout(**{
        xkey: dict(axis_common, domain=xdom, anchor=ya, range=[0, 2.5],
                   tickmode="array", tickvals=X_TICKS, ticktext=X_TICK_LABELS,
                   ticklabelstandoff=5),
        ykey: dict(axis_common, domain=ydom, anchor=xa, type="log",
                   range=Y_RANGES[i], tickmode="array",
                   tickvals=[10 ** e for e in exps], ticktext=[exp_label(e) for e in exps],
                   ticklabelstandoff=2, minor=minor),
    })

    for h in HARMONICS:
        shapes.append(dict(type="line", xref=xa, yref=f"{ya} domain",
                           x0=h, x1=h, y0=0, y1=1, layer="below",
                           line=dict(color="#333333", width=1, dash="12px,4px,2px,4px")))
    for k, lab in enumerate(HARMONIC_LABELS):
        if i == 1 and k == 1:
            continue  # fully hidden behind the legend box in the reference
        text = lab if i != 1 else "1<span style='color:white'>P</span>"
        annotations.append(dict(x=HARM_LABEL_X[k], y=HARM_LABEL_Y[i], xref=xa, yref=ya,
                                text=text, showarrow=False, xanchor="center", yanchor="middle",
                                font=dict(family=SERIF, size=29, color="black")))
    annotations.append(dict(x=32 / W, y=1 - (top + bot) / 2 / H, xref="paper", yref="paper",
                            text=Y_TITLES[i], textangle=-90, showarrow=False,
                            xanchor="center", yanchor="middle",
                            font=dict(family=SERIF, size=29, color="black")))

annotations.append(dict(x=(PLOT_L + PLOT_R) / 2 / W, y=1 - 1417 / H, xref="paper", yref="paper",
                        text=X_TITLE, showarrow=False, xanchor="center", yanchor="middle",
                        font=dict(family=SERIF, size=29, color="black")))

# legend frame (white box covering the middle panel's top)
shapes.append(dict(type="rect", xref="paper", yref="paper",
                   x0=163 / W, x1=694 / W, y0=1 - 595 / H, y1=1 - 518 / H,
                   line=dict(color="black", width=1), fillcolor="white", layer="above"))

fig.update_layout(
    width=W, height=H,
    margin=dict(l=0, r=0, t=0, b=0),
    paper_bgcolor="white", plot_bgcolor="white",
    shapes=shapes, annotations=annotations,
    showlegend=True,
    legend=dict(x=187 / W, y=1 - 562 / H, xanchor="left", yanchor="middle",
                bgcolor="rgba(0,0,0,0)", borderwidth=0,
                font=dict(family=SERIF, size=29, color="black")),
)

fig.write_html("out.html")
